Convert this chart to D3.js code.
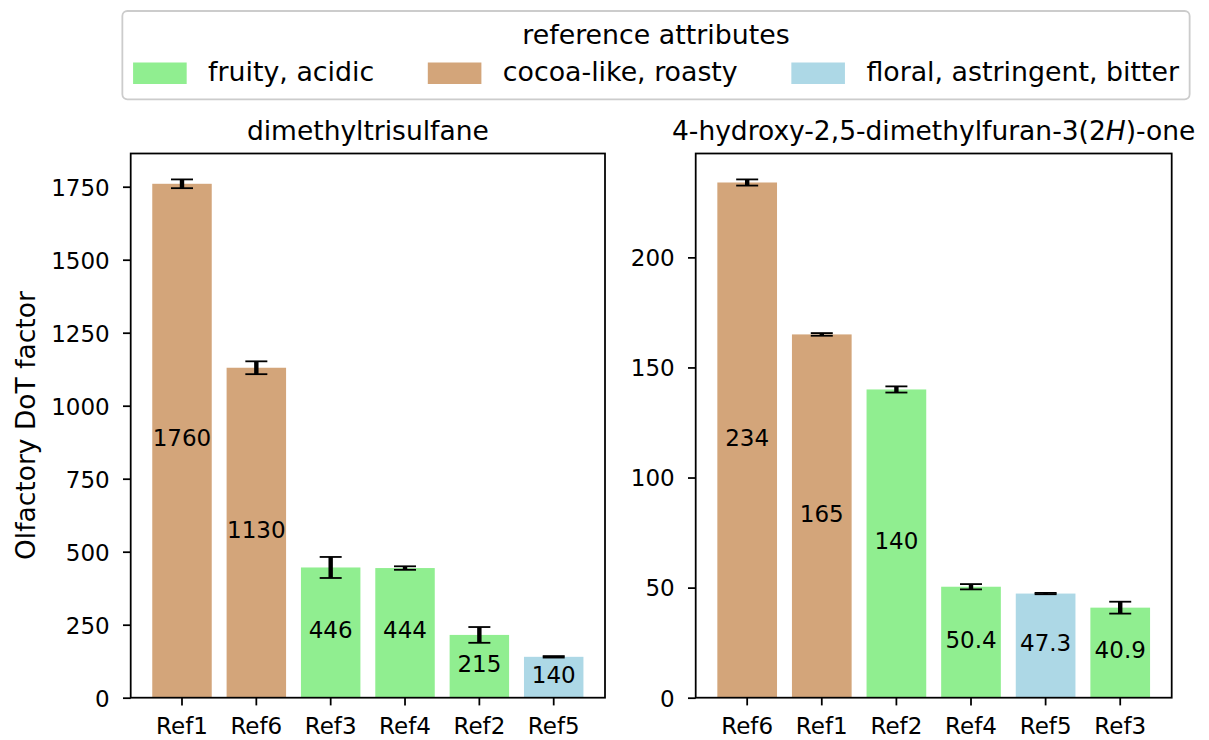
<!DOCTYPE html>
<html>
<head>
<meta charset="utf-8">
<script src="https://cdn.jsdelivr.net/npm/d3@7"></script>
<style>
  html, body { margin: 0; padding: 0; background: #ffffff; }
  svg { display: block; font-family: "DejaVu Sans", sans-serif; }
</style>
</head>
<body>
<svg id="chart" width="1209" height="740"></svg>
<script>
// Odour attribute groups and their fill colours
const attributeNames = ["fruity, acidic", "cocoa-like, roasty", "floral, astringent, bitter"];
const attributeColors = ["#90ee90", "#d3a57a", "#add8e6"];
// reference -> attribute group index
const refAttribute = { Ref1: 1, Ref6: 1, Ref2: 0, Ref3: 0, Ref4: 0, Ref5: 2 };

// Panel 1: dimethyltrisulfane
const dmtsRefs = ["Ref1", "Ref6", "Ref3", "Ref4", "Ref2", "Ref5"];
const dmtsValues = [1760, 1130, 446, 444, 215, 140];
const dmtsErrors = [15, 22, 36, 6, 27, 2.5];
const dmtsTicks = [0, 250, 500, 750, 1000, 1250, 1500, 1750];

// Panel 2: 4-hydroxy-2,5-dimethylfuran-3(2H)-one
const hdmfRefs = ["Ref6", "Ref1", "Ref2", "Ref4", "Ref5", "Ref3"];
const hdmfValues = [234, 165, 140, 50.4, 47.3, 40.9];
const hdmfErrors = [1.4, 0.6, 1.4, 1.2, 0.3, 2.7];
const hdmfTicks = [0, 50, 100, 150, 200];

const svg = d3.select("#chart");

const TICK_FS = 23;     // tick + bar labels
const BIG_FS = 26.5;    // titles, axis label
const LEGEND_FS = 26.8; // legend
const LW = 1.77;
const TICK_LEN = 7.7;

const plotTop = 153.5, plotBottom = 697.7;

function panel(opts) {
  const { x0, x1, refs, values, errors, ticks, titleParts } = opts;
  const g = svg.append("g");

  const x = d3.scaleBand()
    .domain(refs)
    .range([x0, x1])
    .paddingInner(0.2)
    .paddingOuter(0.29);

  const ymax = d3.max(values.map((v, i) => v + errors[i])) * 1.05;
  const y = d3.scaleLinear().domain([0, ymax]).range([plotBottom, plotTop]);

  // bars
  g.selectAll("rect.bar")
    .data(refs)
    .join("rect")
    .attr("class", "bar")
    .attr("x", d => x(d))
    .attr("width", x.bandwidth())
    .attr("y", (d, i) => y(values[i]))
    .attr("height", (d, i) => y(0) - y(values[i]))
    .attr("fill", d => attributeColors[refAttribute[d]]);

  // error bars
  const eb = g.selectAll("g.err")
    .data(refs)
    .join("g")
    .attr("class", "err");
  const cx = d => x(d) + x.bandwidth() / 2;
  eb.append("line")
    .attr("x1", cx).attr("x2", cx)
    .attr("y1", (d, i) => y(values[i] - errors[i]))
    .attr("y2", (d, i) => y(values[i] + errors[i]))
    .attr("stroke", "#000").attr("stroke-width", 4.4);
  [-1, 1].forEach(s => {
    eb.append("line")
      .attr("x1", d => cx(d) - 11).attr("x2", d => cx(d) + 11)
      .attr("y1", (d, i) => y(values[i] + s * errors[i]))
      .attr("y2", (d, i) => y(values[i] + s * errors[i]))
      .attr("stroke", "#000").attr("stroke-width", 1.8);
  });

  // value labels in the middle of each bar
  g.selectAll("text.val")
    .data(refs)
    .join("text")
    .attr("class", "val")
    .attr("x", cx)
    .attr("y", (d, i) => y(values[i] / 2))
    .attr("dy", "0.24em")
    .attr("text-anchor", "middle")
    .attr("font-size", TICK_FS)
    .attr("fill", "#000")
    .text((d, i) => String(values[i]));

  // y axis
  const yAxis = d3.axisLeft(y)
    .tickValues(ticks)
    .tickSize(TICK_LEN)
    .tickPadding(21 - TICK_LEN)
    .tickFormat(d3.format("d"));
  const ya = g.append("g").attr("transform", `translate(${x0},0)`).call(yAxis);
  ya.select(".domain").remove();
  ya.selectAll(".tick line").attr("stroke", "#000").attr("stroke-width", LW);
  ya.selectAll(".tick text")
    .attr("font-size", TICK_FS)
    .attr("font-family", "DejaVu Sans")
    .attr("fill", "#000")
    .attr("dy", "0.364em");

  // x axis
  const xAxis = d3.axisBottom(x).tickSize(TICK_LEN).tickPadding(0);
  const xa = g.append("g").attr("transform", `translate(0,${plotBottom})`).call(xAxis);
  xa.select(".domain").remove();
  xa.selectAll(".tick line").attr("stroke", "#000").attr("stroke-width", LW);
  xa.selectAll(".tick text")
    .attr("font-size", TICK_FS)
    .attr("font-family", "DejaVu Sans")
    .attr("fill", "#000")
    .attr("y", 734 - plotBottom)
    .attr("dy", null);

  // frame
  g.append("rect")
    .attr("x", x0).attr("y", plotTop)
    .attr("width", x1 - x0).attr("height", plotBottom - plotTop)
    .attr("fill", "none")
    .attr("stroke", "#000")
    .attr("stroke-width", LW);

  // title
  const t = g.append("text")
    .attr("x", (x0 + x1) / 2)
    .attr("y", 140)
    .attr("text-anchor", "middle")
    .attr("font-size", BIG_FS)
    .attr("fill", "#000");
  titleParts.forEach(p => {
    const ts = t.append("tspan").text(p.text);
    if (p.italic) ts.attr("font-style", "italic");
  });
}

panel({
  x0: 130.7, x1: 605,
  refs: dmtsRefs, values: dmtsValues, errors: dmtsErrors, ticks: dmtsTicks,
  titleParts: [{ text: "dimethyltrisulfane" }]
});

panel({
  x0: 695.7, x1: 1171.7,
  refs: hdmfRefs, values: hdmfValues, errors: hdmfErrors, ticks: hdmfTicks,
  titleParts: [
    { text: "4-hydroxy-2,5-dimethylfuran-3(2" },
    { text: "H", italic: true },
    { text: ")-one" }
  ]
});

// shared y-axis label
svg.append("text")
  .attr("transform", `translate(35,${(plotTop + plotBottom) / 2}) rotate(-90)`)
  .attr("text-anchor", "middle")
  .attr("font-size", BIG_FS)
  .attr("fill", "#000")
  .text("Olfactory DoT factor");

// legend
const em = LEGEND_FS;
const legendCenter = 656;
const legend = svg.append("g");
const box = legend.append("rect");
legend.append("text")
  .attr("x", legendCenter)
  .attr("y", 43.5)
  .attr("text-anchor", "middle")
  .attr("font-size", LEGEND_FS)
  .attr("fill", "#000")
  .text("reference attributes");

const entries = legend.selectAll("g.entry")
  .data(attributeNames)
  .join("g")
  .attr("class", "entry");
const labels = entries.append("text")
  .attr("font-size", LEGEND_FS)
  .attr("fill", "#000")
  .attr("y", 80.5)
  .text(d => d);
const widths = [];
labels.each(function () { widths.push(this.getComputedTextLength()); });

const handleLen = 2 * em, handlePad = 0.8 * em, colSpace = 2 * em, borderPad = 0.4 * em;
const totalW = d3.sum(widths) + attributeNames.length * (handleLen + handlePad) + (attributeNames.length - 1) * colSpace;
let cursor = legendCenter - totalW / 2;
entries.each(function (d, i) {
  const e = d3.select(this);
  e.insert("rect", "text")
    .attr("x", cursor)
    .attr("y", 62.5)
    .attr("width", handleLen)
    .attr("height", 21.5)
    .attr("fill", attributeColors[i]);
  e.select("text").attr("x", cursor + handleLen + handlePad);
  cursor += handleLen + handlePad + widths[i] + colSpace;
});

box.attr("x", legendCenter - totalW / 2 - borderPad)
  .attr("y", 11)
  .attr("width", totalW + 2 * borderPad)
  .attr("height", 88.3)
  .attr("rx", 5).attr("ry", 5)
  .attr("fill", "#ffffff")
  .attr("fill-opacity", 0.8)
  .attr("stroke", "#cccccc")
  .attr("stroke-width", 1.8);
</script>
</body>
</html>
